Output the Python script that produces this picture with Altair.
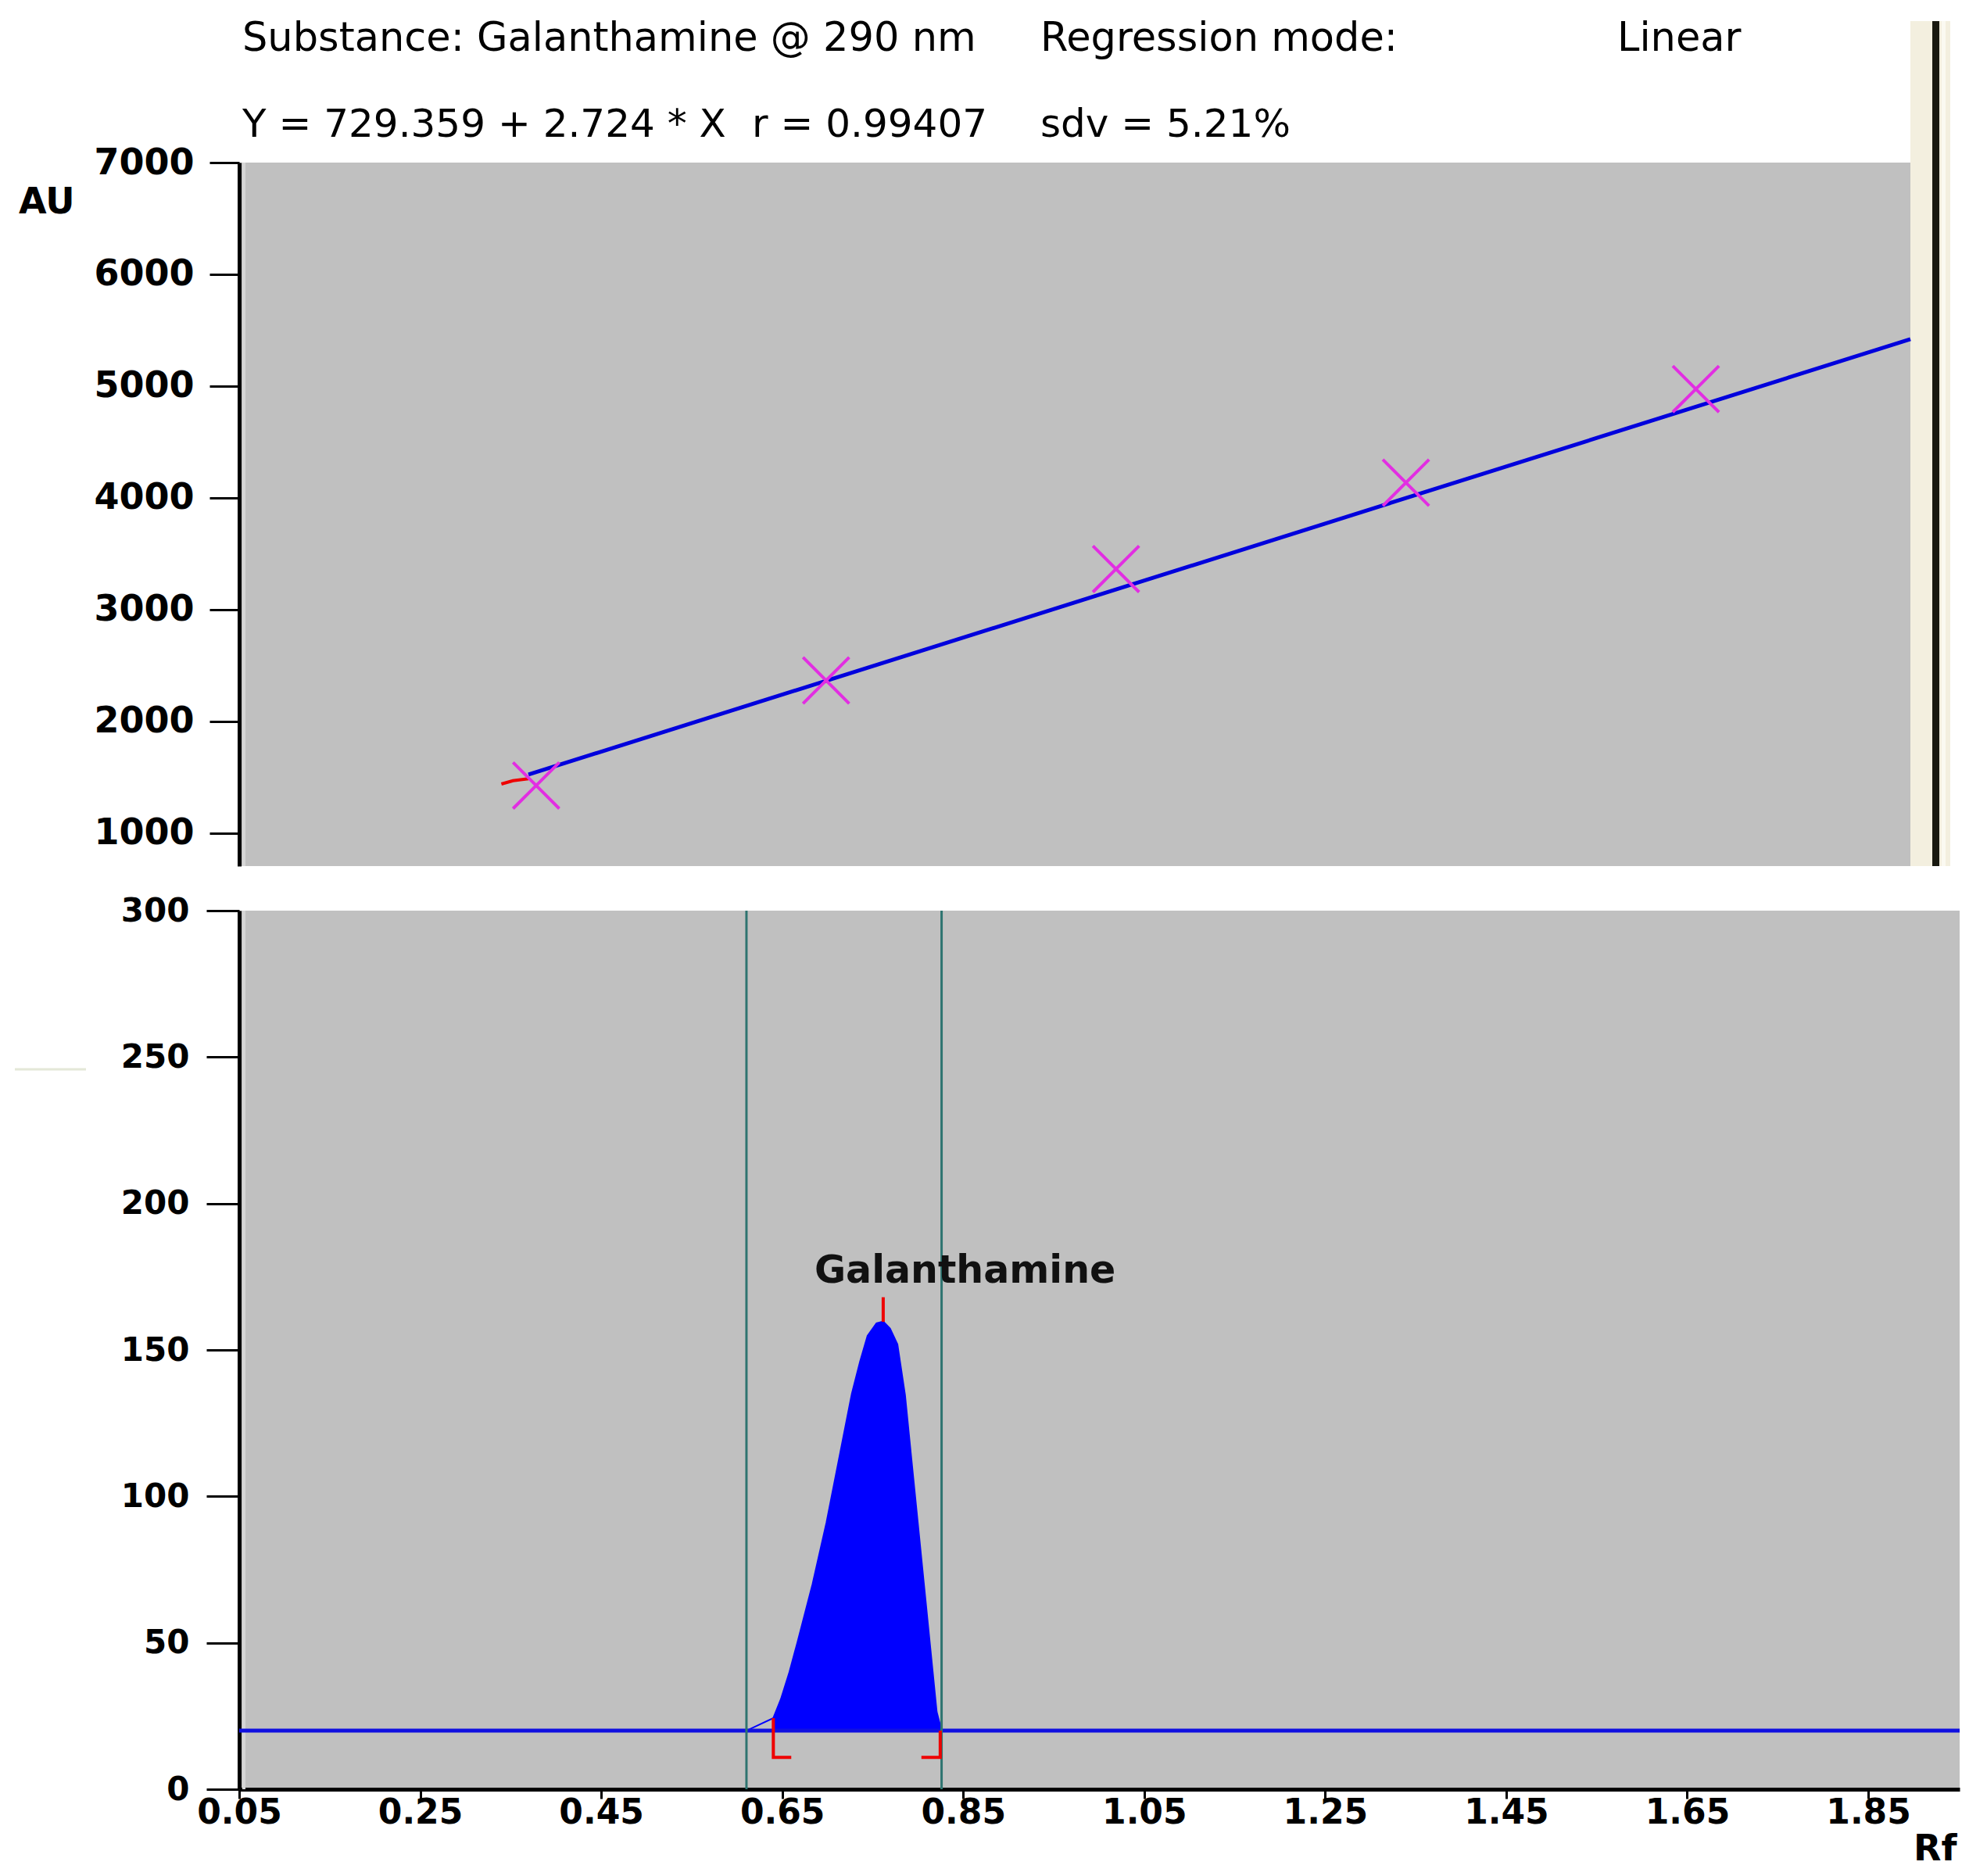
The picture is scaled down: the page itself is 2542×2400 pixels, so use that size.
import altair as alt
import pandas as pd

# ---------------- data ----------------
# calibration panel
cal_amount = [300, 600, 900, 1200, 1500]
cal_area = [1427, 2367, 3364, 4136, 4974]
fit_amount = [292, 1722]
fit_area = [1525, 5420]
hook_amount = [264, 276, 292]
hook_area = [1440, 1470, 1488]
top_y_ticks = [1000, 2000, 3000, 4000, 5000, 6000, 7000]

header_line1 = ["Substance: Galanthamine @ 290 nm", "Regression mode:", "Linear"]
header_line2 = ["Y = 729.359 + 2.724 * X", "r = 0.99407", "sdv = 5.21%"]

# densitogram panel
rf = [0.05, 0.6105, 0.6402, 0.6485, 0.6580, 0.6667, 0.6835, 0.6989, 0.7129,
      0.7269, 0.7360, 0.7443, 0.7542, 0.7616, 0.7691, 0.7773, 0.7857, 0.7927,
      0.7997, 0.8067, 0.8137, 0.8207, 0.8261, 1.951]
au = [20, 20, 24.3, 30.7, 40.0, 50.0, 70.0, 91.0, 113.0,
      135.0, 146.0, 154.8, 159.1, 159.7, 157.3, 151.9, 134.6, 112.9,
      91.3, 69.7, 48.1, 26.4, 20, 20]
baseline_au = [20]
window_rf = [0.6105, 0.8261]
peak_start_rf = 0.6402
peak_end_rf = 0.8261
apex_rf = [0.7616]
apex_au = [159.6]
apex_top_au = [168]
left_bracket_rf = [0.6402, 0.6402, 0.6600]
left_bracket_au = [24.3, 10.9, 10.9]
right_bracket_rf = [0.8246, 0.8246, 0.8038]
right_bracket_au = [20, 10.9, 10.9]
peak_label = ["Galanthamine"]
label_rf = [0.852]
label_au = [177]
x_ticks = [0.05, 0.25, 0.45, 0.65, 0.85, 1.05, 1.25, 1.45, 1.65, 1.85]
bottom_y_ticks = [0, 50, 100, 150, 200, 250, 300]

FONT = "DejaVu Sans"
TOP_W, TOP_H = 2138, 900
BOT_W, BOT_H = 2201, 1124

# ---------------- top panel: calibration ----------------
cal = pd.DataFrame({"amount": cal_amount, "area": cal_area})
fit = pd.DataFrame({"amount": fit_amount, "area": fit_area})
hook = pd.DataFrame({"amount": hook_amount, "area": hook_area})

tx = alt.Scale(domain=[-7.3, 1722], nice=False, zero=False)
ty = alt.Scale(domain=[706, 7000], nice=False, zero=False)
ty_axis = alt.Axis(values=top_y_ticks, title=None, grid=False, labelFont=FONT,
                   labelFontWeight="bold", labelFontSize=46, labelColor="black",
                   tickSize=38, tickWidth=3, tickColor="black", labelPadding=20,
                   domainWidth=5, domainColor="black", format="d")

X_top = alt.X("amount:Q", scale=tx, axis=None)
Y_top = alt.Y("area:Q", scale=ty, axis=ty_axis)

one = pd.DataFrame({"k": [0]})

band = alt.Chart(one).mark_rect(color="#f3efdf").encode(
    x=alt.value(TOP_W), x2=alt.value(TOP_W + 51),
    y=alt.value(-181), y2=alt.value(TOP_H))
band_light = alt.Chart(one).mark_rect(color="#fbf9f1").encode(
    x=alt.value(TOP_W + 40), x2=alt.value(TOP_W + 45),
    y=alt.value(-181), y2=alt.value(TOP_H))
band_line = alt.Chart(one).mark_rect(color="#18180f").encode(
    x=alt.value(TOP_W + 28), x2=alt.value(TOP_W + 37),
    y=alt.value(-181), y2=alt.value(TOP_H))
top_edge = alt.Chart(one).mark_rule(color="#d6d6d6", strokeWidth=4).encode(
    x=alt.value(6), y=alt.value(0), y2=alt.value(TOP_H))

fit_line = alt.Chart(fit).mark_line(color="#0000dd", strokeWidth=5).encode(x=X_top, y=Y_top)
hook_line = alt.Chart(hook).mark_line(color="#ee0000", strokeWidth=4).encode(x=X_top, y=Y_top)
points = alt.Chart(cal).mark_point(
    shape="M-1,-1L1,1M-1,1L1,-1", filled=False, size=3500,
    stroke="#e22ee2", strokeWidth=4, opacity=1).encode(x=X_top, y=Y_top)

def header(text, x, y, size):
    return alt.Chart(pd.DataFrame({"t": [text]})).mark_text(
        font=FONT, fontSize=size, align="left", baseline="alphabetic", color="black"
    ).encode(text="t:N", x=alt.value(x), y=alt.value(y))

h1 = header(header_line1[0], 4, -143, 51)
h2 = header(header_line1[1], 1025, -143, 51)
h3 = header(header_line1[2], 1763, -143, 51)
h4 = header(header_line2[0], 4, -33, 50)
h5 = header(header_line2[1], 656, -33, 50)
h6 = header(header_line2[2], 1025, -33, 50)

au_title = alt.Chart(pd.DataFrame({"t": ["AU"]})).mark_text(
    font=FONT, fontSize=46, fontWeight="bold", align="left", baseline="alphabetic",
    color="black"
).encode(text="t:N", x=alt.value(-282), y=alt.value(65))

top = alt.layer(band, band_light, band_line, top_edge, fit_line, hook_line, points,
                h1, h2, h3, h4, h5, h6, au_title).properties(width=TOP_W, height=TOP_H)

# ---------------- bottom panel: densitogram ----------------
chrom = pd.DataFrame({"rf": rf, "au": au})
fill = chrom[(chrom.rf >= peak_start_rf) & (chrom.rf <= peak_end_rf)]

bx = alt.Scale(domain=[0.05, 1.951], nice=False, zero=False)
by = alt.Scale(domain=[0, 300], nice=False, zero=False)
bx_axis = alt.Axis(values=x_ticks, format=".2f", title=None, grid=False,
                   labelFont=FONT, labelFontWeight="bold", labelFontSize=44,
                   labelColor="black", tickSize=12, tickWidth=3, tickColor="black",
                   labelPadding=-4, domainWidth=5, domainColor="black",
                   labelFlush=False, labelOverlap=False)
by_axis = alt.Axis(values=bottom_y_ticks, title=None, grid=False, labelFont=FONT,
                   labelFontWeight="bold", labelFontSize=42, labelColor="black",
                   tickSize=42, tickWidth=3, tickColor="black", labelPadding=22,
                   domainWidth=5, domainColor="black", format="d")
X_b = alt.X("rf:Q", scale=bx, axis=bx_axis)
Y_b = alt.Y("au:Q", scale=by, axis=by_axis)

bot_edge = alt.Chart(one).mark_rule(color="#d6d6d6", strokeWidth=4).encode(
    x=alt.value(6), y=alt.value(0), y2=alt.value(BOT_H))
area = alt.Chart(fill).mark_area(color="#0000ff", opacity=1).encode(
    x=X_b, y=Y_b, y2=alt.datum(baseline_au[0]))
trace = alt.Chart(chrom).mark_line(color="#0000ff", strokeWidth=2).encode(x=X_b, y=Y_b)
base_rule = alt.Chart(pd.DataFrame({"au": baseline_au})).mark_rule(
    color="#1010e0", strokeWidth=5).encode(y=Y_b)
windows = alt.Chart(pd.DataFrame({"rf": window_rf})).mark_rule(
    color="#2e7470", strokeWidth=3).encode(x=X_b)
apex = alt.Chart(pd.DataFrame({"rf": apex_rf, "au": apex_au, "au2": apex_top_au})).mark_rule(
    color="#ee0000", strokeWidth=4).encode(x=X_b, y=Y_b, y2="au2:Q")
brackets_df = pd.DataFrame({
    "rf": left_bracket_rf + right_bracket_rf,
    "au": left_bracket_au + right_bracket_au,
    "side": ["left"] * 3 + ["right"] * 3,
    "i": [0, 1, 2, 0, 1, 2],
})
brackets = alt.Chart(brackets_df).mark_line(color="#ee0000", strokeWidth=4).encode(
    x=X_b, y=Y_b, detail="side:N", order="i:Q")
label = alt.Chart(pd.DataFrame({"rf": label_rf, "au": label_au, "t": peak_label})).mark_text(
    font=FONT, fontSize=49, fontWeight="bold", color="#111111", baseline="middle", align="center"
).encode(x=X_b, y=Y_b, text="t:N")
rf_title = alt.Chart(pd.DataFrame({"t": ["Rf"]})).mark_text(
    font=FONT, fontSize=46, fontWeight="bold", align="left", baseline="alphabetic", color="black"
).encode(text="t:N", x=alt.value(2142), y=alt.value(1215))
faint = alt.Chart(one).mark_rule(color="#e4e8d8", strokeWidth=3).encode(
    x=alt.value(-287), x2=alt.value(-196), y=alt.value(203))

bottom = alt.layer(bot_edge, area, trace, base_rule, windows, apex, brackets, label,
                   rf_title, faint).properties(width=BOT_W, height=BOT_H)

chart = alt.vconcat(top, bottom, spacing=57, bounds="flush").properties(
    padding={"left": 9, "top": 16, "right": 5, "bottom": 5}
).configure(background="white").configure_view(stroke=None, fill="#c0c0c0")

chart.save("out.html", embed_options={"renderer": "svg", "actions": False})
